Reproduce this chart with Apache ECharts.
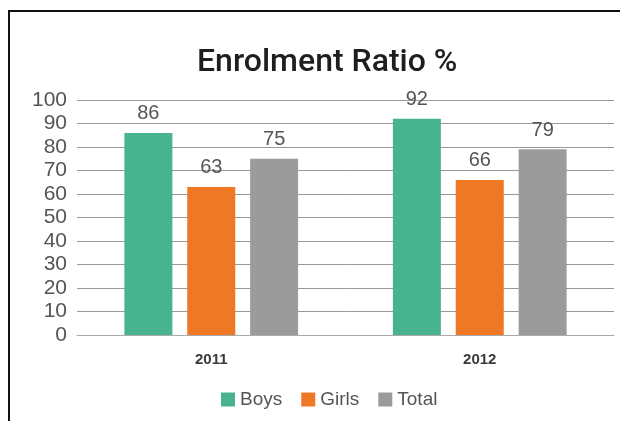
<!DOCTYPE html>
<html>
<head>
<meta charset="utf-8">
<script src="https://cdn.jsdelivr.net/npm/echarts@6/dist/echarts.min.js"></script>
<style>
  html, body { margin: 0; padding: 0; background: #fff; }
  #chart { width: 620px; height: 421px; }
</style>
</head>
<body>
<div id="chart"></div>
<script>
// Enrolment ratio by year
const years = ['2011', '2012'];
const boys = [86, 92];
const girls = [63, 66];
const total = [75, 79];
const yTicks = [0, 10, 20, 30, 40, 50, 60, 70, 80, 90, 100];

const colors = { Boys: '#47B38F', Girls: '#EE7823', Total: '#9B9B9B' };
const font = 'Liberation Sans, Arial, sans-serif';

function barSeries(name, values) {
  return {
    name: name,
    type: 'bar',
    data: values,
    barWidth: 48,
    barGap: '31%',
    itemStyle: { color: colors[name] },
    label: {
      show: true,
      position: 'top',
      distance: 9,
      color: '#555',
      fontSize: 20,
      fontFamily: font
    }
  };
}

const chart = echarts.init(document.getElementById('chart'), null, { renderer: 'canvas' });
chart.setOption({
  animation: false,
  backgroundColor: '#fff',
  graphic: [{
    type: 'rect',
    shape: { x: 9, y: 11, width: 640, height: 440 },
    style: { fill: 'none', stroke: '#111', lineWidth: 2 },
    z: 10
  }],
  title: {
    text: 'Enrolment Ratio %',
    left: 192,
    top: 42,
    textStyle: { fontFamily: 'Roboto, ' + font, fontSize: 32, fontWeight: 500, color: '#1e1e1e' }
  },
  legend: {
    top: 385,
    left: 216,
    icon: 'rect',
    itemWidth: 14,
    itemHeight: 14,
    itemGap: 19,
    textStyle: { fontFamily: font, fontSize: 19, color: '#555' },
    data: ['Boys', 'Girls', 'Total']
  },
  grid: { left: 77, right: 6, top: 100, bottom: 86 },
  xAxis: {
    type: 'category',
    data: years,
    axisTick: { show: false },
    axisLine: { lineStyle: { color: '#aaa', width: 1 } },
    axisLabel: { fontFamily: font, fontSize: 15, fontWeight: 'bold', color: '#3a3a3a', margin: 17 }
  },
  yAxis: {
    type: 'value',
    min: yTicks[0],
    max: yTicks[yTicks.length - 1],
    interval: yTicks[1] - yTicks[0],
    axisLine: { show: false },
    axisTick: { show: false },
    splitLine: { lineStyle: { color: '#999', width: 1 } },
    axisLabel: { fontFamily: font, fontSize: 21, color: '#555', margin: 10 }
  },
  series: [
    barSeries('Boys', boys),
    barSeries('Girls', girls),
    barSeries('Total', total)
  ]
});
</script>
</body>
</html>
